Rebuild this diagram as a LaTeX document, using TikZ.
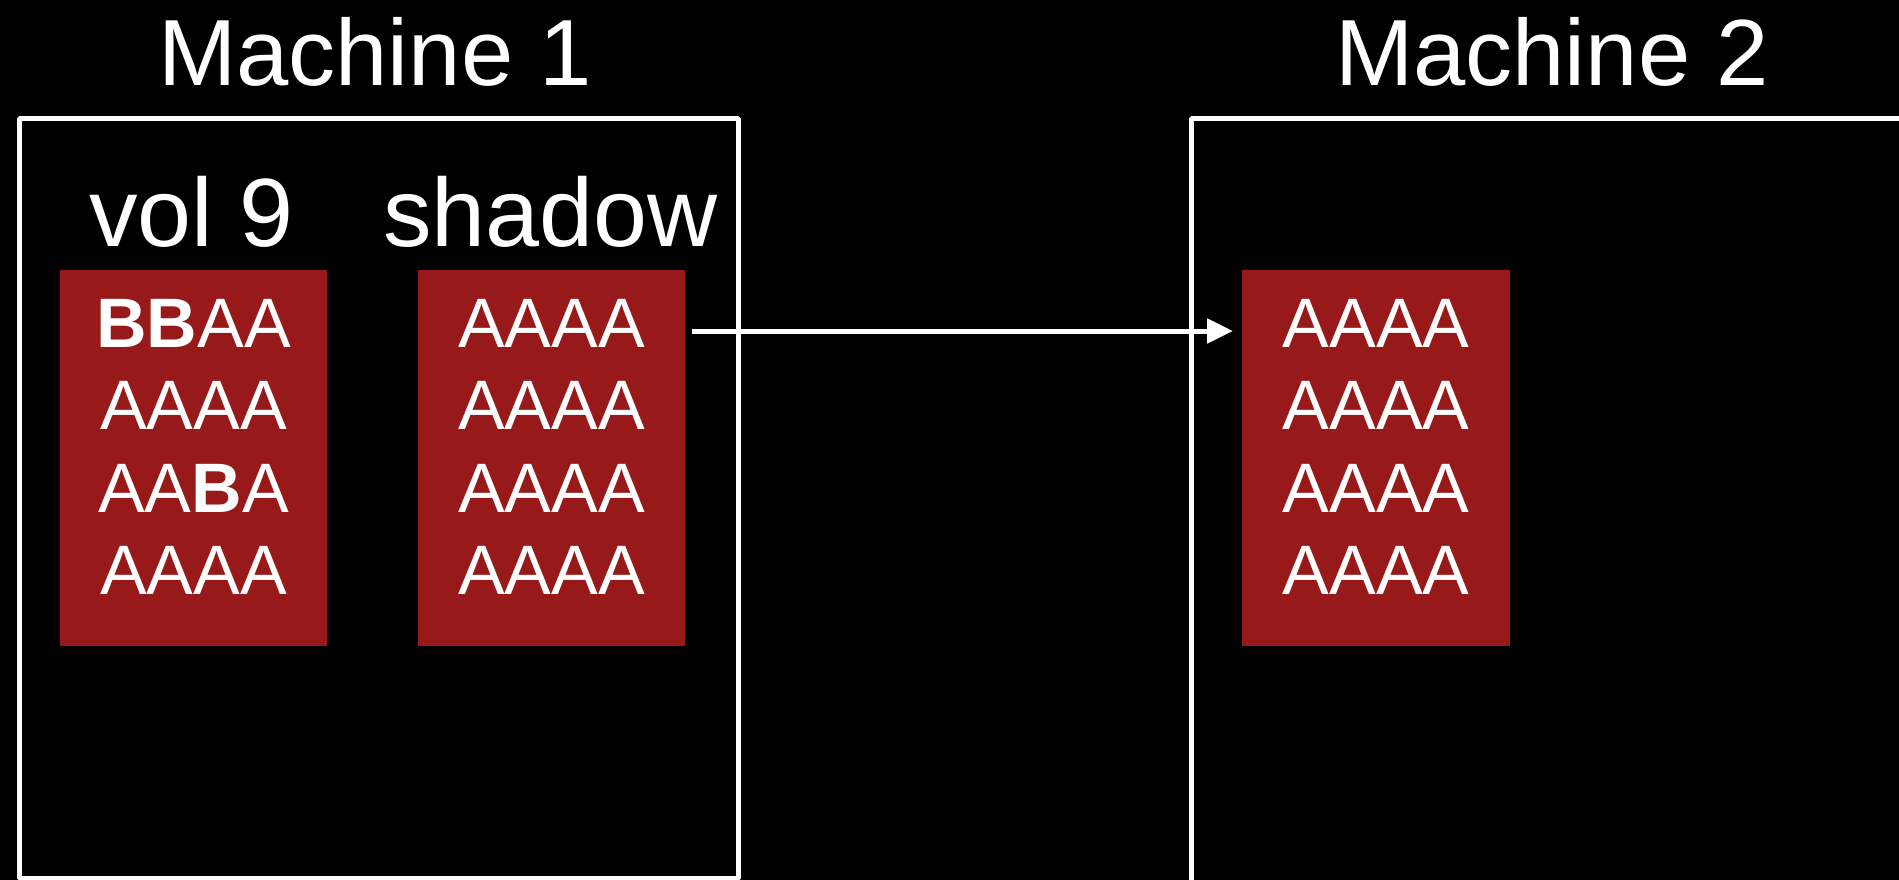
\documentclass[tikz,border=0pt]{standalone}
\usepackage{fontspec}
\setmainfont{Liberation Sans}
\usetikzlibrary{arrows.meta}
\definecolor{blockred}{RGB}{151,25,25}

\begin{document}
\begin{tikzpicture}[x=1bp,y=-1bp,>={Triangle[length=26bp,width=24bp]},line join=bevel,
  machine/.style={draw=white,line width=5bp},
  block/.style={fill=blockred,minimum width=267bp,minimum height=376bp,inner sep=0pt,anchor=north west},
  rowtext/.style={text=white,inner sep=0pt,anchor=base,font=\fontsize{70bp}{82bp}\selectfont},
  machinename/.style={text=white,inner sep=0pt,anchor=base,font=\fontsize{94bp}{94bp}\selectfont},
  volname/.style={text=white,inner sep=0pt,anchor=base,font=\fontsize{97bp}{97bp}\selectfont}]
  \fill[black] (0,0) rectangle (1899,880);
  \useasboundingbox (0,0) rectangle (1899,880);
%%
  % Machine frames
  \draw[machine] (19,118) rectangle (738,878);
  \draw[machine] (1191,884) -- (1191,118) -- (1903,118);
  \node[machinename] (mone) at (375,85) {Machine 1};
  \node[machinename] (mtwo) at (1552,85) {Machine 2};
  % Node: vol 9
\begin{scope}
  \node[volname] (volnine) at (191.5,246) {vol 9};
  \node[block] (vol) at (60,270) {};
  \node[rowtext] (vola) at (193.5,347) {\textbf{BB}AA};
  \node[rowtext] (volb) at (193.5,429.5) {AAAA};
  \node[rowtext] (volc) at (193.5,512) {AA\textbf{B}A};
  \node[rowtext] (vold) at (193.5,594.5) {AAAA};
\end{scope}
  % Node: shadow
\begin{scope}
  \node[volname] (shadowname) at (550.5,246) {shadow};
  \node[block] (shadow) at (418,270) {};
  \foreach \y [count=\i] in {347,429.5,512,594.5}
    \node[rowtext] (shadow\i) at (551.5,\y) {AAAA};
\end{scope}
  % Node: copy on machine 2
\begin{scope}
  \node[block,minimum width=268bp] (remote) at (1242,270) {};
  \foreach \y [count=\i] in {347,429.5,512,594.5}
    \node[rowtext] (remote\i) at (1376,\y) {AAAA};
\end{scope}
  % Edge: shadow -> remote
  \coordinate (arrowrow) at (0,331);
  \draw[->,white,line width=5bp] ([xshift=7bp]shadow.east |- arrowrow) -- ([xshift=-9bp]remote.west |- arrowrow);
%
\end{tikzpicture}
\end{document}
